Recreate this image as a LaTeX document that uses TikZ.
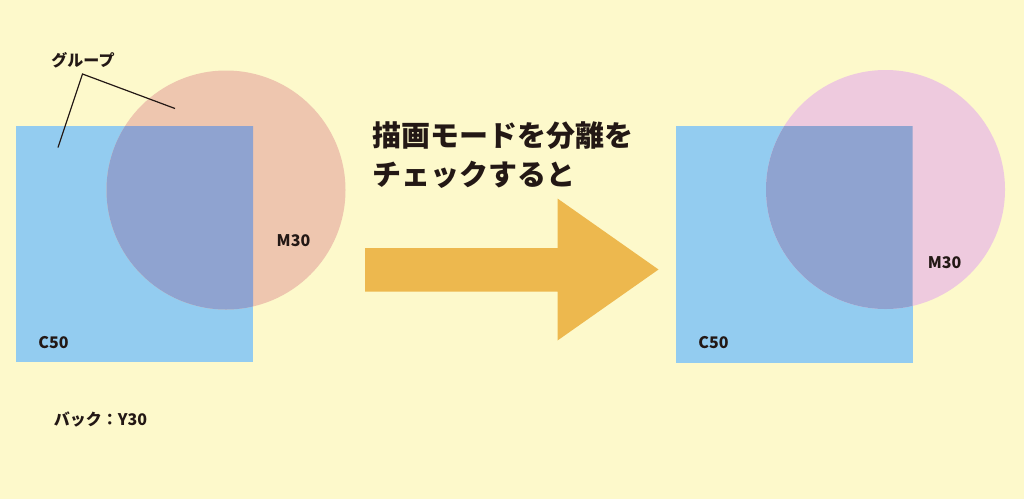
\documentclass[tikz,border=0pt]{standalone}
\usepackage{fontspec}
\newfontfamily\cjk{Noto Sans CJK JP Black}
\definecolor{paper}{HTML}{FDF9CB}
\definecolor{cyanC}{HTML}{93CCF0}
\definecolor{salmonM}{HTML}{EEC6AF}
\definecolor{pinkM}{HTML}{EECADE}
\definecolor{mixCM}{HTML}{8FA3D0}
\definecolor{arrowO}{HTML}{EDB84E}
\definecolor{ink}{HTML}{231815}
\tikzset{
  lbl/.style={text=ink,font=\cjk\fontsize{16}{18}\selectfont,inner sep=0pt},
  big/.style={text=ink,font=\cjk\fontsize{29}{32}\selectfont,inner sep=0pt,anchor=west},
}
\begin{document}
\begin{tikzpicture}[x=1pt,y=-1pt]
  \useasboundingbox (0,0) rectangle (1024,499);
  \fill[paper] (0,0) rectangle (1024,499);
  % left: group
  \fill[cyanC] (16,126) rectangle (253,362);
  \fill[salmonM] (226,190) circle[radius=119.5pt];
  \begin{scope}
    \clip (16,126) rectangle (253,362);
    \fill[mixCM] (226,190) circle[radius=119.5pt];
  \end{scope}
  \node[lbl] (group) at (83,60) {グループ};
  \coordinate (fork) at (82.5,74);
  \coordinate (inSq) at (58,147.5);
  \coordinate (inCi) at (175,108.5);
  \draw[ink,line width=1.2pt] (inSq) -- (fork) -- (inCi);
  \node[lbl] (mL) at (293.5,241) {M30};
  \node[lbl] (cL) at (53.5,343) {C50};
  \node[lbl] (back) at (100.5,419) {バック：Y30};
  % arrow
  \fill[arrowO] (365,248) -- (557.5,248) -- (557.5,198.5) -- (658.5,269.5)
    -- (557.5,340.5) -- (557.5,291.5) -- (365,291.5) -- cycle;
  \node[big] (line1) at (372,136) {描画モードを分離を};
  \node[big] (line2) at (372,175) {チェックすると};
  % right: separated
  \fill[cyanC] (676,126) rectangle (912.5,362.5);
  \fill[pinkM] (885.5,189.5) circle[radius=119.5pt];
  \begin{scope}
    \clip (676,126) rectangle (912.5,362.5);
    \fill[mixCM] (885.5,189.5) circle[radius=119.5pt];
  \end{scope}
  \node[lbl] (mR) at (944.5,262.5) {M30};
  \node[lbl] (cR) at (713.5,343) {C50};
\end{tikzpicture}
\end{document}
